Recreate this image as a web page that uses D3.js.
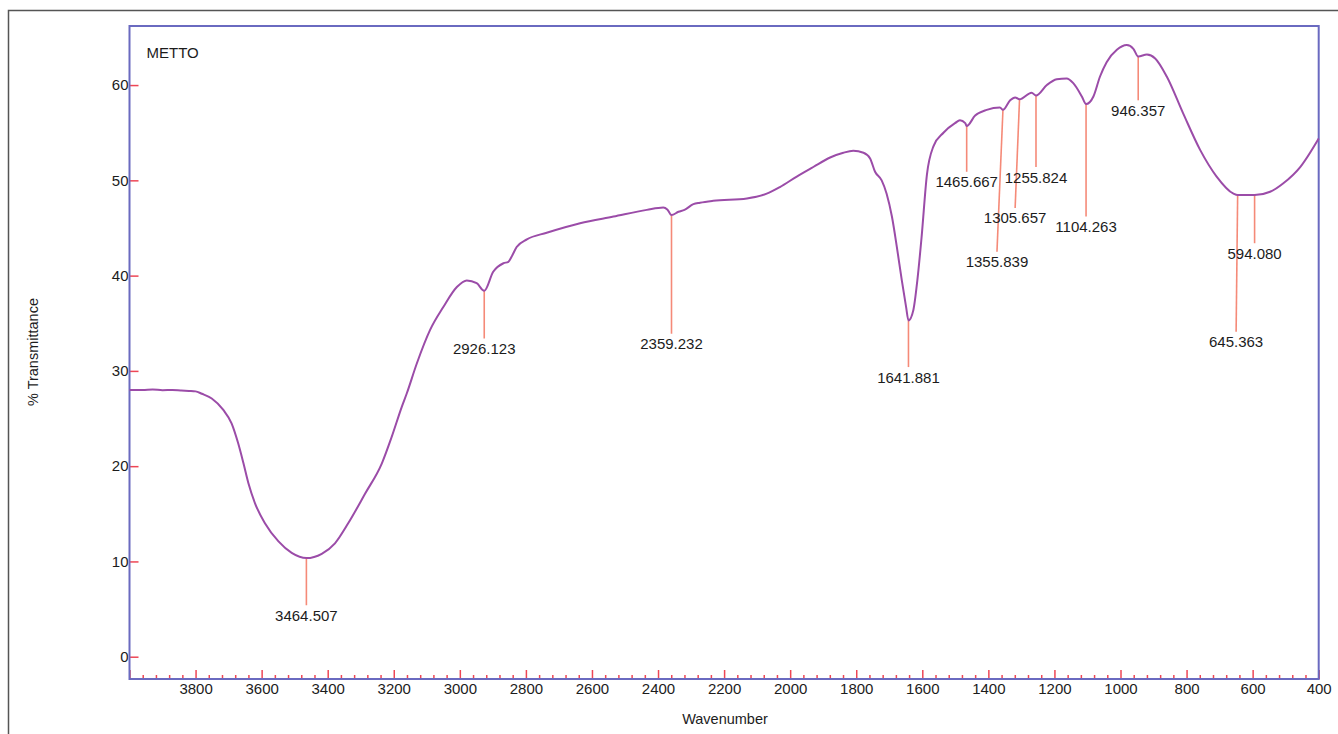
<!DOCTYPE html>
<html>
<head>
<meta charset="utf-8">
<title>FTIR METTO</title>
<style>
  html, body { margin: 0; padding: 0; background: #fff; }
  svg { display: block; font-family: "Liberation Sans", Arial, sans-serif; }
  .tick text { fill: #1c1c1c; font-size: 15px; }
</style>
</head>
<body>
<svg width="1338" height="734"></svg>
<script src="https://cdnjs.cloudflare.com/ajax/libs/d3/7.8.5/d3.min.js"></script>
<script>
// spectrum (wavenumber cm-1, % transmittance)
const wavenumbers = [4000, 3960, 3930, 3900, 3870, 3845, 3820, 3800, 3781, 3751, 3716, 3691, 3671, 3655,
  3640, 3620, 3590, 3549, 3509, 3464.507, 3418, 3378, 3338, 3287, 3236, 3206, 3176, 3161, 3130, 3090,
  3050, 3009, 2979, 2949, 2926.123, 2899, 2868, 2853, 2843, 2828, 2797, 2737, 2636, 2535, 2434, 2384,
  2372, 2359.232, 2338, 2320, 2293, 2273, 2233, 2131, 2071, 2031, 1980, 1930, 1879, 1839, 1809, 1778,
  1758, 1743, 1723, 1708, 1692, 1677, 1662, 1649, 1641.881, 1627, 1615, 1602, 1586, 1566, 1536, 1501,
  1486, 1470, 1465.667, 1440, 1405, 1365, 1355.839, 1334, 1319, 1305.657, 1269, 1255.824, 1223, 1193,
  1163, 1143, 1117, 1104.263, 1082, 1062, 1042, 1011, 981, 961, 946.357, 920, 895, 860, 810, 759, 709,
  658, 645.363, 594.080, 547, 507, 456, 400];
const transmittance = [28.0, 28.0, 28.05, 27.98, 28.0, 27.95, 27.9, 27.85, 27.6, 27.1, 25.9, 24.5, 22.4, 20.3,
  18.2, 16.1, 14.0, 12.1, 10.9, 10.35, 10.8, 11.9, 14.0, 17.1, 20.3, 23.1, 26.2, 27.6, 30.8, 34.3,
  36.7, 38.8, 39.5, 39.2, 38.4, 40.4, 41.3, 41.45, 42.0, 43.0, 43.8, 44.5, 45.5, 46.2, 46.9, 47.15,
  46.95, 46.35, 46.7, 46.9, 47.5, 47.65, 47.85, 48.1, 48.6, 49.3, 50.4, 51.4, 52.4, 52.9, 53.1, 52.9,
  52.3, 50.9, 50.0, 48.6, 46.2, 43.0, 39.5, 36.7, 35.3, 36.4, 39.5, 44.1, 50.6, 53.6, 55.0, 56.0,
  56.3, 56.0, 55.7, 56.8, 57.4, 57.65, 57.4, 58.4, 58.7, 58.5, 59.2, 58.9, 60.0, 60.6,
  60.7, 60.2, 58.8, 58.0, 58.8, 60.9, 62.4, 63.7, 64.2, 63.8, 63.0, 63.2, 62.8, 60.9, 57.0, 53.2, 50.4,
  48.6, 48.45, 48.45, 48.8, 49.7, 51.4, 54.4];

// peak picks: wavenumber, where the label line ends (in %T), and label wavenumber (slanted leaders)
const peakWn = [3464.507, 2926.123, 2359.232, 1641.881, 1465.667, 1355.839, 1305.657, 1255.824, 1104.263, 946.357, 645.363, 594.080];
const peakLabelT = [5.4, 33.4, 33.9, 30.4, 50.9, 42.5, 47.1, 51.4, 46.2, 58.4, 34.1, 43.4];
const peakLabelWn = [3464.507, 2926.123, 2359.232, 1641.881, 1465.667, 1374, 1319, 1255.824, 1104.263, 946.357, 650, 594.080];

const xMajor = d3.range(4000, 399, -200);
const xMinor = d3.range(4000, 399, -40).filter(v => v % 200 !== 0);
const yTicks = [0, 10, 20, 30, 40, 50, 60];

const sampleName = "METTO";

const svg = d3.select("svg");
const pLeft = 129.5, pRight = 1318.7, pTop = 26, pBottom = 679;

const x = d3.scaleLinear().domain([4000, 400]).range([pLeft, pRight]);
const y = d3.scaleLinear().domain([-2.34, 66.2]).range([pBottom, pTop]);

// outer border of the figure
svg.append("path")
  .attr("d", `M8.5,734 V10.5 H1338`)
  .attr("fill", "none")
  .attr("stroke", "#555")
  .attr("stroke-width", 1.5);

const red = "#ee4655";

// x axis: minor ticks, then major ticks with labels
svg.append("g")
  .attr("transform", `translate(0,${pBottom})`)
  .call(d3.axisBottom(x).tickValues(xMinor).tickSize(-4).tickFormat(""))
  .call(g => g.select(".domain").remove())
  .call(g => g.selectAll("line").attr("stroke", red).attr("stroke-width", 1.5));

svg.append("g")
  .attr("transform", `translate(0,${pBottom})`)
  .call(d3.axisBottom(x).tickValues(xMajor).tickSize(-9).tickPadding(4)
    .tickFormat(d => d === 4000 ? "" : d))
  .call(g => g.select(".domain").remove())
  .call(g => g.selectAll("line").attr("stroke", red).attr("stroke-width", 1.5));

// y axis
svg.append("g")
  .attr("transform", `translate(${pLeft},0)`)
  .call(d3.axisLeft(y).tickValues(yTicks).tickSize(-9).tickPadding(1))
  .call(g => g.select(".domain").remove())
  .call(g => g.selectAll("line").attr("stroke", red).attr("stroke-width", 1.5));

// plot frame
svg.append("rect")
  .attr("x", pLeft).attr("y", pTop)
  .attr("width", pRight - pLeft).attr("height", pBottom - pTop)
  .attr("fill", "none")
  .attr("stroke", "#6a6ac0")
  .attr("stroke-width", 2);

// spectrum
const pts = wavenumbers.map((w, i) => [w, transmittance[i]]);
const line = d3.line()
  .x(d => x(d[0]))
  .y(d => y(d[1]))
  .curve(d3.curveMonotoneX);

// peak leaders
const tAt = w => transmittance[wavenumbers.indexOf(w)];
const peaks = peakWn.map((w, i) => ({w, t: tAt(w), lt: peakLabelT[i], lw: peakLabelWn[i]}));

svg.append("g").selectAll("line")
  .data(peaks).join("line")
  .attr("x1", d => x(d.w)).attr("y1", d => y(d.t))
  .attr("x2", d => x(d.lw)).attr("y2", d => y(d.lt))
  .attr("stroke", "#f58a78")
  .attr("stroke-width", 1.6);

svg.append("path")
  .attr("d", line(pts))
  .attr("fill", "none")
  .attr("stroke", "#9b4ca8")
  .attr("stroke-width", 2);

svg.append("g").selectAll("text")
  .data(peaks).join("text")
  .attr("x", d => x(d.lw))
  .attr("y", d => y(d.lt) + 15.5)
  .attr("text-anchor", "middle")
  .attr("font-size", 15)
  .attr("fill", "#1c1c1c")
  .text(d => d3.format(".3f")(d.w));

// titles
svg.append("text")
  .attr("x", 146.5).attr("y", 58)
  .attr("font-size", 15).attr("fill", "#1c1c1c")
  .text(sampleName);

svg.append("text")
  .attr("x", 725).attr("y", 724)
  .attr("text-anchor", "middle")
  .attr("font-size", 14.5).attr("fill", "#1c1c1c")
  .text("Wavenumber");

svg.append("text")
  .attr("transform", "translate(38,352) rotate(-90)")
  .attr("text-anchor", "middle")
  .attr("font-size", 14.5).attr("fill", "#1c1c1c")
  .text("% Transmittance");
</script>
</body>
</html>
